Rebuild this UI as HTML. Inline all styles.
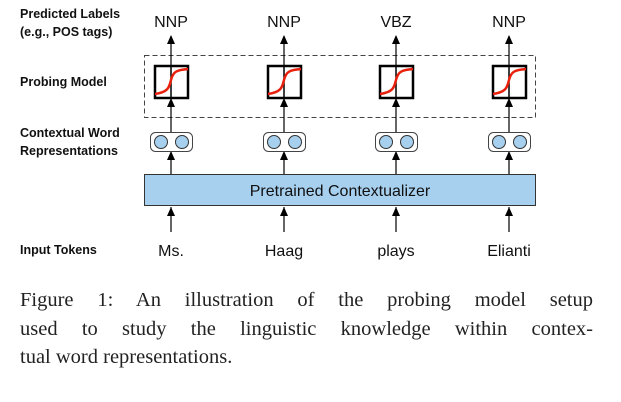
<!DOCTYPE html>
<html><head><style>
body{margin:0;width:621px;height:402px;background:#fff;overflow:hidden;position:relative}
.cap{position:absolute;left:20px;width:573px;font-family:"Liberation Serif",serif;font-size:20.5px;line-height:28.5px;color:#222;white-space:nowrap}
.j{text-align:justify;text-align-last:justify}
</style></head><body>
<svg width="621" height="280" style="position:absolute;left:0;top:0" font-family="Liberation Sans, sans-serif">
<g font-weight="bold" font-size="12.5" fill="#111">
<text x="20" y="18">Predicted Labels</text>
<text x="20" y="36">(e.g., POS tags)</text>
<text x="20" y="86">Probing Model</text>
<text x="20" y="137">Contextual Word</text>
<text x="20" y="155">Representations</text>
<text x="20" y="254">Input Tokens</text>
</g>
<rect x="144.5" y="55.5" width="391" height="62" fill="none" stroke="#444" stroke-dasharray="5,3"/>
<rect x="144.5" y="174.5" width="391" height="31" fill="#a7cfee" stroke="#333"/>
<text x="340" y="196" text-anchor="middle" font-size="16" fill="#111">Pretrained Contextualizer</text>
<g id="c">
<line x1="171" y1="65" x2="171" y2="36" stroke="#000" stroke-width="1.2"/><path d="M167,44 L171,35 L175,44Z"/>
<line x1="171" y1="132" x2="171" y2="98" stroke="#000" stroke-width="1.2"/><path d="M167,107 L171,98 L175,107Z"/>
<line x1="171" y1="174" x2="171" y2="151" stroke="#000" stroke-width="1.2"/><path d="M167,160 L171,151 L175,160Z"/>
<line x1="171" y1="232" x2="171" y2="207" stroke="#000" stroke-width="1.2"/><path d="M167,216 L171,207 L175,216Z"/>
<rect x="155" y="66" width="33" height="32" fill="#fff" stroke="#000" stroke-width="2.5"/>
<line x1="171" y1="65" x2="171" y2="98" stroke="#000" stroke-width="1.5"/>
<path d="M155,94 C168,92 169,88 171,80 C173,72 176,70 188,69" fill="none" stroke="#e8200c" stroke-width="2.5"/>
<rect x="150.5" y="132.5" width="42" height="19" rx="5" fill="#fff" stroke="#444"/>
<circle cx="161" cy="142" r="6.5" fill="#a7cfee" stroke="#333"/>
<circle cx="182" cy="142" r="6.5" fill="#a7cfee" stroke="#333"/>
</g>
<use href="#c" x="113"/><use href="#c" x="225"/><use href="#c" x="338"/>
<g font-size="16" fill="#111" text-anchor="middle">
<text x="171" y="27">NNP</text><text x="284" y="27">NNP</text><text x="396" y="27">VBZ</text><text x="509" y="27">NNP</text>
<text x="171" y="256">Ms.</text><text x="284" y="256">Haag</text><text x="396" y="256">plays</text><text x="509" y="256">Elianti</text>
</g>
</svg>
<div class="cap j" style="top:286px">Figure 1: An illustration of the probing model setup</div>
<div class="cap j" style="top:314.5px">used to study the linguistic knowledge within contex-</div>
<div class="cap" style="top:343px">tual word representations.</div>
</body></html>
